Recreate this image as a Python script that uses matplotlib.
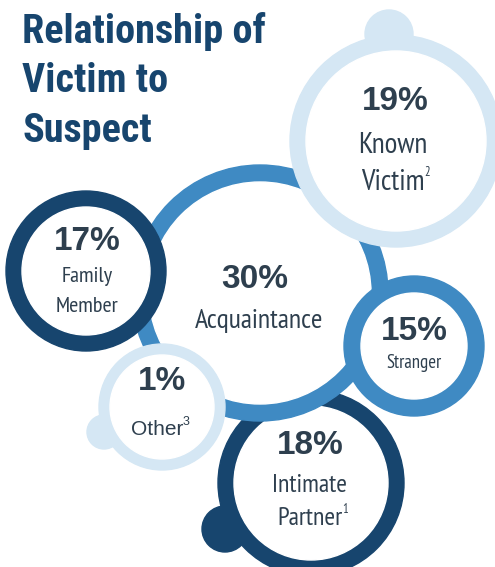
import matplotlib.pyplot as plt
from matplotlib.patches import Circle

# data
percents = ["19%", "17%", "30%", "15%", "1%", "18%"]
names = [["Known", "Victim"], ["Family", "Member"], ["Acquaintance"], ["Stranger"], ["Other"], ["Intimate", "Partner"]]
notes = ["2", "", "", "", "3", "1"]

# colours
navy = "#17456e"
mid = "#3f8ac3"
light = "#d5e7f4"
txt = "#2e3f4e"

# layout in pixels (y down): x, y, r, ring width, colour, z
rings = [
    (396, 141, 106, 16, light, 4),   # known victim
    (86, 271, 80, 16, navy, 3),      # family
    (260, 293, 128, 17, mid, 2),     # acquaintance
    (414, 346, 70, 17, mid, 5),      # stranger
    (162, 407, 63, 11, light, 6),    # other
    (311, 483, 93, 16, navy, 1),     # intimate
]
knobs = [
    (389, 34, 24, light, 4),
    (104, 432, 17, light, 6),
    (225, 529, 23, navy, 1),
]
pct_pos = [(395, 102), (87, 241), (255, 279), (414, 331), (162, 382), (310, 446)]
name_x = [393, 87, 259, 414, 157, 310]
name_base = [[153, 190], [282, 312], [328], [368], [435], [492, 525]]
name_size = [21, 16, 20, 13.5, 15, 18.5]

cond = ["Roboto Condensed", "DejaVu Sans"]
narrow = ["PT Sans Narrow", "DejaVu Sans"]
arial = ["Liberation Sans", "DejaVu Sans"]
name_font = [narrow, narrow, narrow, narrow, arial, narrow]

fig = plt.figure(figsize=(4.95, 5.67), dpi=100)
ax = fig.add_axes([0, 0, 1, 1])
ax.set_xlim(0, 495)
ax.set_ylim(567, 0)
ax.set_aspect("equal")
ax.axis("off")

for x, y, r, c, z in knobs:
    ax.add_patch(Circle((x, y), r, color=c, zorder=z * 3))

for x, y, r, w, c, z in rings:
    ax.add_patch(Circle((x, y), r, color=c, zorder=z * 3 + 1))
    ax.add_patch(Circle((x, y), r - w, color="white", zorder=z * 3 + 2))

ax.text(22, 12, "Relationship of\nVictim to\nSuspect", family=cond,
        fontweight="bold", fontsize=29, color=navy, va="top", ha="left",
        linespacing=1.38, zorder=30)

renderer = fig.canvas.get_renderer()
inv = ax.transData.inverted()

for i in range(len(percents)):
    z = rings[i][5] * 3 + 2.5
    ax.text(pct_pos[i][0], pct_pos[i][1], percents[i], family=arial,
            fontweight="bold", fontsize=24, color=txt, ha="center", va="center", zorder=z)
    for j, line in enumerate(names[i]):
        t = ax.text(name_x[i], name_base[i][j], line, family=name_font[i],
                    fontsize=name_size[i], color=txt, ha="center", va="baseline", zorder=z)
    if notes[i]:
        bb = t.get_window_extent(renderer=renderer)
        x1 = inv.transform((bb.x1, bb.y1))[0]
        cap = name_size[i] * 100 / 72 * 0.7
        ax.text(x1 - 0.5, name_base[i][-1] - 0.68 * cap, notes[i], family=name_font[i],
                fontsize=9, color=txt, ha="left", va="baseline", zorder=z)

fig.savefig("out.png", dpi=100)
